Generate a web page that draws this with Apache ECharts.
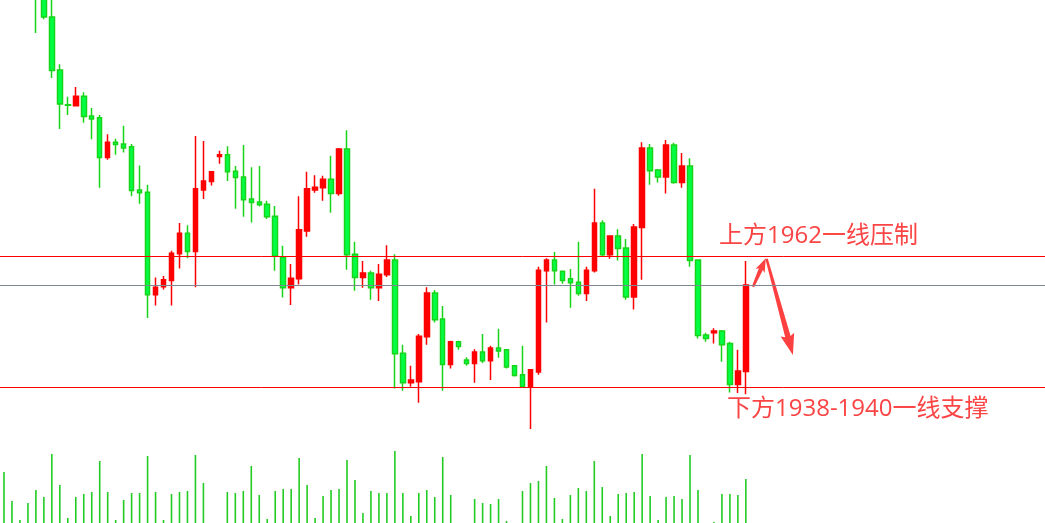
<!DOCTYPE html>
<html><head><meta charset="utf-8">
<script src="https://cdn.jsdelivr.net/npm/echarts@6/dist/echarts.min.js"></script>
<style>html,body{margin:0;padding:0;background:#fff}#c{width:1045px;height:523px}</style>
</head><body><div id="c"></div>
<script>
// ---- data ----
const opens  = [2030,2024,2019,2020,2016,2012,2004.0,1994.7,1988.6,1988.4,
  1990.1,1986.6,1986.3,1979.3,1982.0,1981.7,1981.2,1973.6,1973.2,1955.2,
  1956.6,1957.7,1962.4,1966.0,1962.8,1973.6,1975.1,1979.5,1979.8,1976.9,
  1975.9,1972.0,1971.5,1971.1,1969.0,1961.8,1956.4,1958.0,1966.4,1973.6,
  1974.0,1975.5,1973.0,1980.8,1962.3,1958.2,1959.0,1956.4,1958.7,1961.3,
  1944.9,1939.7,1939.9,1947.8,1955.5,1950.9,1942.9,1946.9,1943.7,1943.1,
  1945.1,1943.6,1945.8,1945.5,1942.7,1941.1,1939.0,1941.6,1959.4,1961.3,
  1959.3,1958.0,1957.4,1955.4,1959.4,1967.8,1962.2,1965.5,1963.4,1954.8,
  1967.0,1981.0,1977.1,1975.9,1981.5,1974.9,1977.8,1961.3,1948.1,1948.5,
  1948.8,1946.6,1939.4,1941.7];
const closes = [2024,2019,2020.5,2014,2010,2004.0,1994.6,1988.7,1988.5,1990.1,
  1986.5,1986.1,1979.3,1982.0,1981.6,1981.0,1973.5,1973.1,1955.2,1956.5,
  1957.8,1962.5,1966.0,1962.8,1973.8,1975.2,1976.8,1979.8,1976.8,1975.8,
  1971.9,1971.4,1971.0,1968.9,1962.0,1956.4,1958.1,1966.6,1973.8,1974.1,
  1975.5,1973.0,1980.8,1962.2,1958.2,1959.0,1956.4,1958.8,1961.3,1944.8,
  1939.7,1940.2,1947.9,1955.5,1950.8,1942.9,1946.9,1946.1,1943.1,1945.1,
  1943.6,1945.8,1945.3,1942.5,1941.0,1939.0,1942.0,1959.5,1961.3,1959.4,
  1957.7,1957.3,1955.4,1959.5,1967.8,1962.2,1965.5,1963.3,1954.8,1967.1,
  1981.0,1977.0,1975.9,1981.5,1974.9,1977.8,1961.2,1948.0,1947.5,1948.8,
  1946.4,1939.4,1941.8,1956.9];
const lows   = [2022,2017,2016,2012,2001.2,2003.6,1993.3,1984.3,1986.8,1988.4,
  1985.4,1982.5,1974.0,1978.9,1979.8,1980.2,1972.5,1971.2,1951.1,1953.3,
  1956.1,1953.3,1959.8,1961.6,1956.5,1972.0,1974.4,1978.2,1975.2,1970.3,
  1968.9,1967.9,1970.7,1968.5,1959.4,1954.7,1953.4,1957.0,1965.4,1973.1,
  1971.7,1969.6,1972.6,1959.6,1955.9,1956.4,1954.3,1954.1,1958.3,1938.7,
  1938.3,1939.0,1936.2,1946.4,1950.3,1938.3,1942.2,1945.5,1942.7,1939.7,
  1943.2,1940.2,1944.1,1942.2,1940.8,1939.0,1931.6,1941.1,1950.3,1957.0,
  1957.1,1952.9,1955.0,1954.1,1959.1,1961.9,1961.5,1961.2,1954.3,1952.6,
  1957.8,1974.5,1974.9,1973.0,1974.7,1974.0,1960.1,1947.5,1946.9,1946.6,
  1943.4,1938.0,1937.9,1937.7];
const highs  = [2033,2026,2022,2021,2018,2013,2008,1995.7,1990.0,1991.7,
  1990.8,1988.0,1986.8,1983.4,1982.6,1984.9,1981.7,1977.9,1974.5,1958.2,
  1958.5,1962.9,1967.8,1967.4,1983.1,1982.2,1976.9,1980.5,1981.3,1977.8,
  1981.5,1977.6,1977.8,1971.7,1970.8,1963.8,1960.6,1972.5,1976.8,1976.2,
  1976.1,1979.6,1981.0,1984.1,1964.5,1961.1,1959.4,1960.6,1963.9,1962.3,
  1946.4,1942.7,1948.3,1956.5,1956.0,1953.2,1947.1,1947.1,1944.2,1945.6,
  1948.3,1946.2,1949.2,1945.5,1942.8,1946.2,1942.0,1960.1,1961.6,1962.7,
  1959.4,1959.7,1964.5,1960.1,1973.8,1968.3,1965.6,1966.7,1965.0,1967.6,
  1982.0,1981.7,1977.3,1982.4,1981.9,1980.1,1979.2,1961.4,1948.5,1949.3,
  1949.0,1946.9,1945.5,1961.1];
const volumes = [51,22,3,20,33,26,69,38,5,26,
  29,31,62,31,3,23,30,30,67,31,
  3,29,31,32,68,40,0,0,31,30,
  32,57,28,4,32,34,34,65,38,5,
  27,33,34,63,43,10,32,30,30,72,
  30,7,30,33,26,66,28,0,0,24,
  20,19,24,2,0,32,40,42,57,25,
  4,28,35,32,62,36,7,29,30,31,
  69,27,3,26,27,24,68,33,0,1,
  29,29,28,44];
const resistanceLevel = 1962;
const supportLevel = 1939;
const resistanceText = '上方1962一线压制';
const supportText = '下方1938-1940一线支撑';
// arrows: [xStart, priceStart, xEnd, priceEnd] in slot index / price units
const arrowFrom1 = [93.9, 1956.6, 95.5, 1961.6];
const arrowFrom2 = [95.6, 1961.5, 98.9, 1944.6];

const slotCount = 131;
const categories = [];
for (let i = 0; i < slotCount; i++) categories.push('K' + (i + 1));

const candleData = opens.map((o, i) => [o, closes[i], lows[i], highs[i]]);
const lastClose = closes[closes.length - 1];

const arrowLook = [
  {head: 12, half: 5, w0: 1.2, w1: 2.2},
  {head: 19, half: 7, w0: 1.2, w1: 2.8}
];

const chart = echarts.init(document.getElementById('c'), null, {renderer: 'canvas'});
chart.setOption({
  animation: false,
  backgroundColor: '#ffffff',
  grid: [
    {left: -2, width: 1048, top: 0, height: 438},
    {left: -2, width: 1048, top: 443, height: 80}
  ],
  xAxis: [
    {type: 'category', data: categories, gridIndex: 0, show: false, boundaryGap: true},
    {type: 'category', data: categories, gridIndex: 1, show: false, boundaryGap: true},
    {type: 'value', gridIndex: 0, min: -0.5, max: slotCount - 0.5, show: false}
  ],
  yAxis: [
    {type: 'value', gridIndex: 0, min: 1930, max: 2007, show: false, splitLine: {show: false}},
    {type: 'value', gridIndex: 1, min: 0, max: 80, show: false, splitLine: {show: false}}
  ],
  series: [
    {
      type: 'candlestick',
      xAxisIndex: 0, yAxisIndex: 0,
      data: candleData,
      barWidth: 5,
      clip: true,
      itemStyle: {
        color: '#ff0000', color0: '#00ff44',
        borderColor: '#ff0000', borderColor0: '#18d418',
        borderWidth: 1.5
      },
      markLine: {
        silent: true, symbol: 'none', label: {show: false},
        data: [
          {yAxis: resistanceLevel, lineStyle: {color: '#ff0000', width: 1, type: 'solid'}},
          {yAxis: lastClose, lineStyle: {color: '#7f8891', width: 1.2, type: 'solid'}},
          {yAxis: supportLevel, lineStyle: {color: '#ff0000', width: 1, type: 'solid'}}
        ]
      }
    },
    {
      type: 'bar',
      xAxisIndex: 1, yAxisIndex: 1,
      data: volumes,
      barWidth: 1.6,
      itemStyle: {color: '#22cc22'}
    },
    {
      type: 'custom',
      xAxisIndex: 2, yAxisIndex: 0,
      data: [arrowFrom1, arrowFrom2],
      silent: true,
      renderItem: function (params, api) {
        const a = api.coord([api.value(0), api.value(1)]);
        const b = api.coord([api.value(2), api.value(3)]);
        const lk = arrowLook[params.dataIndex];
        const dx = b[0] - a[0], dy = b[1] - a[1];
        const len = Math.sqrt(dx * dx + dy * dy);
        const ux = dx / len, uy = dy / len;
        const nx = -uy, ny = ux;
        const neck = [b[0] - ux * lk.head, b[1] - uy * lk.head];
        const pts = [
          [a[0] + nx * lk.w0, a[1] + ny * lk.w0],
          [neck[0] + nx * lk.w1, neck[1] + ny * lk.w1],
          [neck[0] + nx * lk.half - ux * 2, neck[1] + ny * lk.half - uy * 2],
          b,
          [neck[0] - nx * lk.half - ux * 2, neck[1] - ny * lk.half - uy * 2],
          [neck[0] - nx * lk.w1, neck[1] - ny * lk.w1],
          [a[0] - nx * lk.w0, a[1] - ny * lk.w0]
        ];
        return {type: 'polygon', shape: {points: pts}, style: {fill: '#ff4040'}};
      }
    }
  ],
  graphic: [
    {type: 'text', x: 719, y: 236, silent: true,
      style: {text: resistanceText, fill: '#fb4545', fontSize: 24,
        fontFamily: '"Open Sans", "Noto Sans CJK SC", sans-serif', verticalAlign: 'middle', align: 'left'}},
    {type: 'text', x: 727, y: 409, silent: true,
      style: {text: supportText, fill: '#fb4545', fontSize: 24,
        fontFamily: '"Open Sans", "Noto Sans CJK SC", sans-serif', verticalAlign: 'middle', align: 'left'}}
  ]
});
</script>
</body></html>
